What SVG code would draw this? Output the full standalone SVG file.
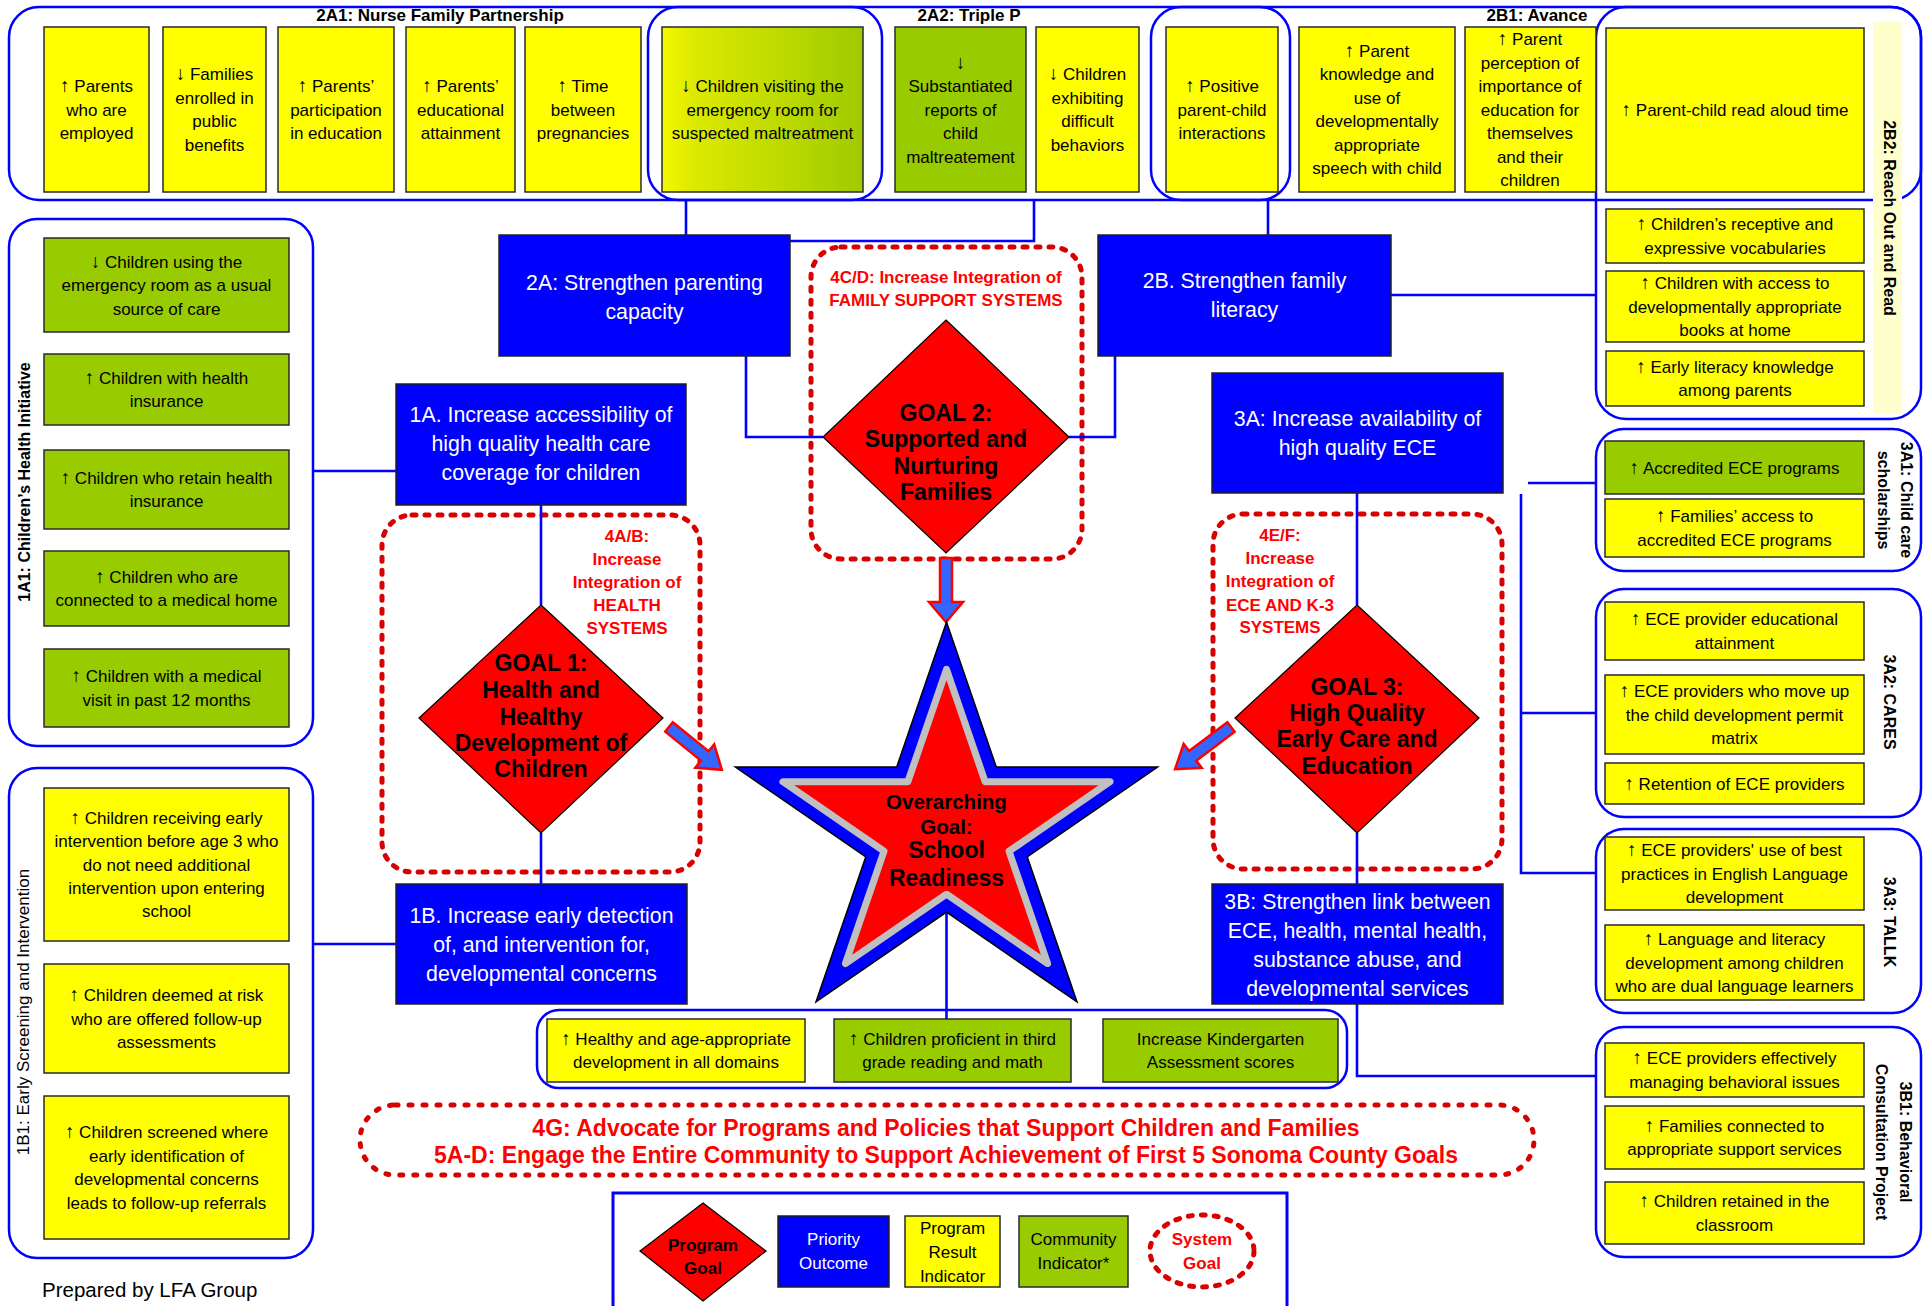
<svg xmlns="http://www.w3.org/2000/svg" width="1931" height="1306" viewBox="0 0 1931 1306">
<style>
text{font-family:"Liberation Sans",Arial,Helvetica,sans-serif}
.grp{fill:none;stroke:#0000FF;stroke-width:2.5}
.y{fill:#FFFF00;stroke:#2a2a2a;stroke-width:1.5}
.g{fill:#99CC00;stroke:#2a2a2a;stroke-width:1.5}
.b{fill:#0000FF;stroke:#222;stroke-width:1.5}
.dia{fill:#FF0000;stroke:#000;stroke-width:1.2}
.sys{fill:none;stroke:#D80000;stroke-width:5;stroke-dasharray:4 9;stroke-linecap:round}
.conn path{fill:none;stroke:#0000FF;stroke-width:2.6}
.arr{fill:#3366FF;stroke:#FF0000;stroke-width:2.5}
.t{font-size:17px;text-anchor:middle;fill:#000}
.a{font-weight:bold;font-size:19px}
.w{font-size:21.3px;text-anchor:middle;fill:#fff}
.r{font-size:17px;font-weight:bold;text-anchor:middle;fill:#FF0000}
.gl{font-size:23px;font-weight:bold;text-anchor:middle;fill:#000}
.lb{font-size:16px;font-weight:bold;text-anchor:middle;fill:#000}
.ti{font-size:17px;font-weight:bold;text-anchor:middle;fill:#000}
.lg{font-size:17px;text-anchor:middle}
</style>
<defs>
<linearGradient id="yg" x1="0" y1="0" x2="1" y2="0">
<stop offset="0" stop-color="#F5F800"/><stop offset="0.15" stop-color="#DDEA00"/><stop offset="1" stop-color="#9FCB00"/>
</linearGradient>
</defs>
<rect width="1931" height="1306" fill="#fff"/>

<!-- group frames -->
<g id="frame-top">
<rect class="grp" x="9" y="7" width="1912" height="193" rx="30"/>
<rect class="grp" x="648" y="7" width="234" height="193" rx="30"/>
<rect class="grp" x="1151" y="7" width="139" height="193" rx="30"/>
<text class="ti" x="440" y="21">2A1: Nurse Family Partnership</text>
<text class="ti" x="969" y="21">2A2: Triple P</text>
<text class="ti" x="1537" y="21">2B1: Avance</text>
</g>
<g id="frame-2B2">
<rect x="1873" y="22" width="29" height="391" fill="#FFFFCC"/>
<rect class="grp" x="1596" y="7" width="325" height="412" rx="30"/>
<text class="lb" transform="translate(1884,218) rotate(90)" x="0" y="0">2B2: Reach Out and Read</text>
</g>
<g id="frame-1A1">
<rect class="grp" x="9" y="219" width="304" height="527" rx="28"/>
<text class="lb" transform="translate(30,482) rotate(-90)" x="0" y="0">1A1: Children’s Health Initiative</text>
</g>
<g id="frame-1B1">
<rect class="grp" x="9" y="768" width="304" height="490" rx="28"/>
<text style="font-size:17px;text-anchor:middle" transform="translate(29,1012) rotate(-90)" x="0" y="0">1B1: Early Screening and Intervention</text>
</g>
<g id="frame-3A1">
<rect class="grp" x="1596" y="429" width="325" height="142" rx="28"/>
<text class="lb" transform="translate(1901,500) rotate(90)"><tspan x="0" y="0">3A1: Child care</tspan><tspan x="0" y="23">scholarships</tspan></text>
</g>
<g id="frame-3A2">
<rect class="grp" x="1596" y="589" width="325" height="228" rx="28"/>
<text class="lb" transform="translate(1884,702) rotate(90)" x="0" y="0">3A2: CARES</text>
</g>
<g id="frame-3A3">
<rect class="grp" x="1596" y="829" width="325" height="184" rx="28"/>
<text class="lb" transform="translate(1884,922) rotate(90)" x="0" y="0">3A3: TALLK</text>
</g>
<g id="frame-3B1">
<rect class="grp" x="1596" y="1027" width="325" height="230" rx="28"/>
<text class="lb" transform="translate(1900,1142) rotate(90)"><tspan x="0" y="0">3B1: Behavioral</tspan><tspan x="0" y="24">Consultation Project</tspan></text>
</g>
<g id="frame-community">
<rect class="grp" x="537" y="1010" width="810" height="78" rx="22"/>
</g>

<!-- system goals (dashed) -->
<g id="sys-4AB">
<rect class="sys" x="382" y="515" width="318" height="357" rx="30"/>
<text class="r"><tspan x="627" y="542">4A/B:</tspan><tspan x="627" y="565">Increase</tspan><tspan x="627" y="588">Integration of</tspan><tspan x="627" y="611">HEALTH</tspan><tspan x="627" y="634">SYSTEMS</tspan></text>
</g>
<g id="sys-4CD">
<rect class="sys" x="811" y="247" width="271" height="312" rx="30"/>
<text class="r"><tspan x="946" y="283">4C/D: Increase Integration of</tspan><tspan x="946" y="306">FAMILY SUPPORT SYSTEMS</tspan></text>
</g>
<g id="sys-4EF">
<rect class="sys" x="1213" y="514" width="289" height="355" rx="30"/>
<text class="r"><tspan x="1280" y="541">4E/F:</tspan><tspan x="1280" y="564">Increase</tspan><tspan x="1280" y="587">Integration of</tspan><tspan x="1280" y="611">ECE AND K-3</tspan><tspan x="1280" y="633">SYSTEMS</tspan></text>
</g>
<g id="sys-4G5">
<rect class="sys" x="360" y="1105" width="1174" height="70" rx="35" style="stroke-dasharray:3 11"/>
<text class="r" style="font-size:23px"><tspan x="946" y="1136">4G: Advocate for Programs and Policies that Support Children and Families</tspan><tspan x="946" y="1163">5A-D: Engage the Entire Community to Support Achievement of First 5 Sonoma County Goals</tspan></text>
</g>

<!-- connectors -->
<g id="connectors" class="conn">
<path d="M686,200 V235"/>
<path d="M1034,200 V241 H790"/>
<path d="M746,356 V437 H823"/>
<path d="M1069,437 H1115 V356"/>
<path d="M1268,200 V235"/>
<path d="M1391,295 H1596"/>
<path d="M313,471 H396"/>
<path d="M541,505 V605"/>
<path d="M541,833 V884"/>
<path d="M313,944 H396"/>
<path d="M1357,493 V605"/>
<path d="M1357,833 V884"/>
<path d="M1357,1004 V1076 H1596"/>
<path d="M1528,483 H1596"/>
<path d="M1521,494 V873 H1596"/>
<path d="M1521,713 H1596"/>
<path d="M946.5,912 V1019"/>
<polygon class="arr" points="940,558 952,558 952,602 963,602 946,622 929,602 940,602"/>
<polygon class="arr" transform="translate(669,727) rotate(39)" points="0,-6 46,-6 46,-15 68,0 46,15 46,6 0,6"/>
<polygon class="arr" transform="translate(1231,727) rotate(143)" points="0,-6 48,-6 48,-15 70,0 48,15 48,6 0,6"/>
</g>

<!-- top row indicators -->
<g id="n-parents-employed"><rect class="y" x="44" y="27" width="105" height="165"/>
<text class="t"><tspan x="96.5" y="92"><tspan class="a">↑</tspan> Parents</tspan><tspan x="96.5" y="115.5">who are</tspan><tspan x="96.5" y="139">employed</tspan></text></g>
<g id="n-public-benefits"><rect class="y" x="163" y="27" width="103" height="165"/>
<text class="t"><tspan x="214.5" y="80.25"><tspan class="a">↓</tspan> Families</tspan><tspan x="214.5" y="103.75">enrolled in</tspan><tspan x="214.5" y="127.25">public</tspan><tspan x="214.5" y="150.75">benefits</tspan></text></g>
<g id="n-participation"><rect class="y" x="278" y="27" width="116" height="165"/>
<text class="t"><tspan x="336" y="92"><tspan class="a">↑</tspan> Parents’</tspan><tspan x="336" y="115.5">participation</tspan><tspan x="336" y="139">in education</tspan></text></g>
<g id="n-attainment"><rect class="y" x="406" y="27" width="109" height="165"/>
<text class="t"><tspan x="460.5" y="92"><tspan class="a">↑</tspan> Parents’</tspan><tspan x="460.5" y="115.5">educational</tspan><tspan x="460.5" y="139">attainment</tspan></text></g>
<g id="n-pregnancies"><rect class="y" x="525" y="27" width="116" height="165"/>
<text class="t"><tspan x="583" y="92"><tspan class="a">↑</tspan> Time</tspan><tspan x="583" y="115.5">between</tspan><tspan x="583" y="139">pregnancies</tspan></text></g>
<g id="n-er-maltreatment"><rect x="662" y="27" width="201" height="165" fill="url(#yg)" stroke="#2a2a2a" stroke-width="1.5"/>
<text class="t"><tspan x="762.5" y="92"><tspan class="a">↓</tspan> Children visiting the</tspan><tspan x="762.5" y="115.5">emergency room for</tspan><tspan x="762.5" y="139">suspected maltreatment</tspan></text></g>
<g id="n-substantiated"><rect class="g" x="895" y="27" width="131" height="165"/>
<text class="t"><tspan x="960.5" y="68.5" class="a">↓</tspan><tspan x="960.5" y="92">Substantiated</tspan><tspan x="960.5" y="115.5">reports of</tspan><tspan x="960.5" y="139">child</tspan><tspan x="960.5" y="162.5">maltreatement</tspan></text></g>
<g id="n-difficult"><rect class="y" x="1036" y="27" width="103" height="165"/>
<text class="t"><tspan x="1087.5" y="80.25"><tspan class="a">↓</tspan> Children</tspan><tspan x="1087.5" y="103.75">exhibiting</tspan><tspan x="1087.5" y="127.25">difficult</tspan><tspan x="1087.5" y="150.75">behaviors</tspan></text></g>
<g id="n-positive"><rect class="y" x="1166" y="27" width="112" height="165"/>
<text class="t"><tspan x="1222" y="92"><tspan class="a">↑</tspan> Positive</tspan><tspan x="1222" y="115.5">parent-child</tspan><tspan x="1222" y="139">interactions</tspan></text></g>
<g id="n-speech"><rect class="y" x="1299" y="27" width="156" height="165"/>
<text class="t"><tspan x="1377" y="56.75"><tspan class="a">↑</tspan> Parent</tspan><tspan x="1377" y="80.25">knowledge and</tspan><tspan x="1377" y="103.75">use of</tspan><tspan x="1377" y="127.25">developmentally</tspan><tspan x="1377" y="150.75">appropriate</tspan><tspan x="1377" y="174.25">speech with child</tspan></text></g>
<g id="n-perception"><rect class="y" x="1465" y="27" width="131" height="165"/>
<text class="t"><tspan x="1530" y="45"><tspan class="a">↑</tspan> Parent</tspan><tspan x="1530" y="68.5">perception of</tspan><tspan x="1530" y="92">importance of</tspan><tspan x="1530" y="115.5">education for</tspan><tspan x="1530" y="139">themselves</tspan><tspan x="1530" y="162.5">and their</tspan><tspan x="1530" y="186">children</tspan></text></g>
<g id="n-read-aloud"><rect class="y" x="1606" y="28" width="258" height="164"/>
<text class="t"><tspan x="1735" y="116"><tspan class="a">↑</tspan> Parent-child read aloud time</tspan></text></g>

<!-- 2B2 items -->
<g id="n-vocab"><rect class="y" x="1606" y="209" width="258" height="54"/>
<text class="t"><tspan x="1735" y="230"><tspan class="a">↑</tspan> Children’s receptive and</tspan><tspan x="1735" y="253.5">expressive vocabularies</tspan></text></g>
<g id="n-books"><rect class="y" x="1606" y="271" width="258" height="71"/>
<text class="t"><tspan x="1735" y="289"><tspan class="a">↑</tspan> Children with access to</tspan><tspan x="1735" y="312.5">developmentally appropriate</tspan><tspan x="1735" y="336">books at home</tspan></text></g>
<g id="n-early-literacy"><rect class="y" x="1606" y="351" width="258" height="55"/>
<text class="t"><tspan x="1735" y="372.75"><tspan class="a">↑</tspan> Early literacy knowledge</tspan><tspan x="1735" y="396.25">among parents</tspan></text></g>

<!-- 1A1 items -->
<g id="n-er-usual"><rect class="g" x="44" y="238" width="245" height="94"/>
<text class="t"><tspan x="166.5" y="267.5"><tspan class="a">↓</tspan> Children using the</tspan><tspan x="166.5" y="291">emergency room as a usual</tspan><tspan x="166.5" y="314.5">source of care</tspan></text></g>
<g id="n-insurance"><rect class="g" x="44" y="354" width="245" height="71"/>
<text class="t"><tspan x="166.5" y="383.75"><tspan class="a">↑</tspan> Children with health</tspan><tspan x="166.5" y="407.25">insurance</tspan></text></g>
<g id="n-retain"><rect class="g" x="44" y="450" width="245" height="79"/>
<text class="t"><tspan x="166.5" y="483.75"><tspan class="a">↑</tspan> Children who retain health</tspan><tspan x="166.5" y="507.25">insurance</tspan></text></g>
<g id="n-medical-home"><rect class="g" x="44" y="551" width="245" height="75"/>
<text class="t"><tspan x="166.5" y="582.75"><tspan class="a">↑</tspan> Children who are</tspan><tspan x="166.5" y="606.25">connected to a medical home</tspan></text></g>
<g id="n-medical-visit"><rect class="g" x="44" y="649" width="245" height="78"/>
<text class="t"><tspan x="166.5" y="682.25"><tspan class="a">↑</tspan> Children with a medical</tspan><tspan x="166.5" y="705.75">visit in past 12 months</tspan></text></g>

<!-- 1B1 items -->
<g id="n-early-intervention"><rect class="y" x="44" y="788" width="245" height="153"/>
<text class="t"><tspan x="166.5" y="823.7"><tspan class="a">↑</tspan> Children receiving early</tspan><tspan x="166.5" y="847.1">intervention before age 3 who</tspan><tspan x="166.5" y="870.5">do not need additional</tspan><tspan x="166.5" y="893.9">intervention upon entering</tspan><tspan x="166.5" y="917.3">school</tspan></text></g>
<g id="n-at-risk"><rect class="y" x="44" y="964" width="245" height="109"/>
<text class="t"><tspan x="166.5" y="1001"><tspan class="a">↑</tspan> Children deemed at risk</tspan><tspan x="166.5" y="1024.5">who are offered follow-up</tspan><tspan x="166.5" y="1048">assessments</tspan></text></g>
<g id="n-screened"><rect class="y" x="44" y="1096" width="245" height="143"/>
<text class="t"><tspan x="166.5" y="1138.4"><tspan class="a">↑</tspan> Children screened where</tspan><tspan x="166.5" y="1161.8">early identification of</tspan><tspan x="166.5" y="1185.2">developmental concerns</tspan><tspan x="166.5" y="1208.6">leads to follow-up referrals</tspan></text></g>

<!-- 3A1 / 3A2 / 3A3 / 3B1 items -->
<g id="n-accredited"><rect class="g" x="1605" y="441" width="259" height="53"/>
<text class="t"><tspan x="1734.5" y="473.5"><tspan class="a">↑</tspan> Accredited ECE programs</tspan></text></g>
<g id="n-access-accredited"><rect class="y" x="1605" y="499" width="259" height="58"/>
<text class="t"><tspan x="1734.5" y="522.25"><tspan class="a">↑</tspan> Families’ access to</tspan><tspan x="1734.5" y="545.75">accredited ECE programs</tspan></text></g>
<g id="n-provider-edu"><rect class="y" x="1605" y="602" width="259" height="58"/>
<text class="t"><tspan x="1734.5" y="625.25"><tspan class="a">↑</tspan> ECE provider educational</tspan><tspan x="1734.5" y="648.75">attainment</tspan></text></g>
<g id="n-permit"><rect class="y" x="1605" y="675" width="259" height="79"/>
<text class="t"><tspan x="1734.5" y="697"><tspan class="a">↑</tspan> ECE providers who move up</tspan><tspan x="1734.5" y="720.5">the child development permit</tspan><tspan x="1734.5" y="744">matrix</tspan></text></g>
<g id="n-retention"><rect class="y" x="1605" y="763" width="259" height="41"/>
<text class="t"><tspan x="1734.5" y="789.5"><tspan class="a">↑</tspan> Retention of ECE providers</tspan></text></g>
<g id="n-best-practices"><rect class="y" x="1605" y="837" width="259" height="73"/>
<text class="t"><tspan x="1734.5" y="856"><tspan class="a">↑</tspan> ECE providers' use of best</tspan><tspan x="1734.5" y="879.5">practices in English Language</tspan><tspan x="1734.5" y="903">development</tspan></text></g>
<g id="n-dual-language"><rect class="y" x="1605" y="925" width="259" height="75"/>
<text class="t"><tspan x="1734.5" y="945"><tspan class="a">↑</tspan> Language and literacy</tspan><tspan x="1734.5" y="968.5">development among children</tspan><tspan x="1734.5" y="992">who are dual language learners</tspan></text></g>
<g id="n-behavioral"><rect class="y" x="1605" y="1043" width="259" height="54"/>
<text class="t"><tspan x="1734.5" y="1064.25"><tspan class="a">↑</tspan> ECE providers effectively</tspan><tspan x="1734.5" y="1087.75">managing behavioral issues</tspan></text></g>
<g id="n-support-services"><rect class="y" x="1605" y="1106" width="259" height="63"/>
<text class="t"><tspan x="1734.5" y="1131.75"><tspan class="a">↑</tspan> Families connected to</tspan><tspan x="1734.5" y="1155.25">appropriate support services</tspan></text></g>
<g id="n-retained"><rect class="y" x="1605" y="1182" width="259" height="62"/>
<text class="t"><tspan x="1734.5" y="1207.25"><tspan class="a">↑</tspan> Children retained in the</tspan><tspan x="1734.5" y="1230.75">classroom</tspan></text></g>

<!-- community indicators -->
<g id="n-healthy-dev"><rect class="y" x="547" y="1019" width="258" height="63"/>
<text class="t"><tspan x="676" y="1045"><tspan class="a">↑</tspan> Healthy and age-appropriate</tspan><tspan x="676" y="1068">development in all domains</tspan></text></g>
<g id="n-third-grade"><rect class="g" x="834" y="1019" width="237" height="63"/>
<text class="t"><tspan x="952.5" y="1045"><tspan class="a">↑</tspan> Children proficient in third</tspan><tspan x="952.5" y="1068">grade reading and math</tspan></text></g>
<g id="n-kindergarten"><rect class="g" x="1103" y="1019" width="235" height="63"/>
<text class="t"><tspan x="1220.5" y="1045">Increase Kindergarten</tspan><tspan x="1220.5" y="1068">Assessment scores</tspan></text></g>

<!-- priority outcomes -->
<g id="n-2A"><rect class="b" x="499" y="235" width="291" height="121"/>
<text class="w"><tspan x="644.5" y="289.5">2A: Strengthen parenting</tspan><tspan x="644.5" y="318.5">capacity</tspan></text></g>
<g id="n-2B"><rect class="b" x="1098" y="235" width="293" height="121"/>
<text class="w"><tspan x="1244.5" y="288">2B. Strengthen family</tspan><tspan x="1244.5" y="317">literacy</tspan></text></g>
<g id="n-1A"><rect class="b" x="396" y="384" width="290" height="121"/>
<text class="w"><tspan x="541" y="421.5">1A. Increase accessibility of</tspan><tspan x="541" y="450.5">high quality health care</tspan><tspan x="541" y="479.5">coverage for children</tspan></text></g>
<g id="n-3A"><rect class="b" x="1212" y="373" width="291" height="120"/>
<text class="w"><tspan x="1357.5" y="425.5">3A: Increase availability of</tspan><tspan x="1357.5" y="454.5">high quality ECE</tspan></text></g>
<g id="n-1B"><rect class="b" x="396" y="884" width="291" height="120"/>
<text class="w"><tspan x="541.5" y="922.5">1B. Increase early detection</tspan><tspan x="541.5" y="951.5">of, and intervention for,</tspan><tspan x="541.5" y="980.5">developmental concerns</tspan></text></g>
<g id="n-3B"><rect class="b" x="1212" y="884" width="291" height="120"/>
<text class="w"><tspan x="1357.5" y="908.5">3B: Strengthen link between</tspan><tspan x="1357.5" y="937.5">ECE, health, mental health,</tspan><tspan x="1357.5" y="966.5">substance abuse, and</tspan><tspan x="1357.5" y="995.5">developmental services</tspan></text></g>

<!-- program goals -->
<g id="n-goal1"><polygon class="dia" points="541,605 663,718 541,833 419,718"/>
<text class="gl"><tspan x="541" y="671">GOAL 1:</tspan><tspan x="541" y="698">Health and</tspan><tspan x="541" y="725">Healthy</tspan><tspan x="541" y="751">Development of</tspan><tspan x="541" y="777">Children</tspan></text></g>
<g id="n-goal2"><polygon class="dia" points="946,320 1069,437 946,553 823,437"/>
<text class="gl"><tspan x="946" y="421">GOAL 2:</tspan><tspan x="946" y="447">Supported and</tspan><tspan x="946" y="474">Nurturing</tspan><tspan x="946" y="500">Families</tspan></text></g>
<g id="n-goal3"><polygon class="dia" points="1357,605 1479,718 1357,833 1235,718"/>
<text class="gl"><tspan x="1357" y="695">GOAL 3:</tspan><tspan x="1357" y="721">High Quality</tspan><tspan x="1357" y="747">Early Care and</tspan><tspan x="1357" y="774">Education</tspan></text></g>

<!-- overarching goal star -->
<g id="n-star">
<polygon points="946.5,622 996.3,767.1 1157.6,767.1 1027.2,856.8 1077,1001.9 946.5,912.2 816,1001.9 865.8,856.8 735.4,767.1 896.7,767.1" fill="#0000FF" stroke="#000" stroke-width="1.5"/>
<polygon points="946.5,669.3 985.1,781.7 1110.1,781.7 1009,851.2 1047.6,963.6 946.5,894.2 845.4,963.6 884,851.2 782.9,781.7 907.9,781.7" fill="#FF0000" stroke="#C0C0C0" stroke-width="7" stroke-linejoin="round"/>
<text class="gl"><tspan x="946.5" y="809" style="font-size:20.5px">Overarching</tspan><tspan x="946.5" y="834" style="font-size:20.5px">Goal:</tspan><tspan x="946.5" y="858">School</tspan><tspan x="946.5" y="886">Readiness</tspan></text>
</g>

<!-- legend -->
<g id="legend">
<path d="M613,1306 V1193 H1287 V1306" fill="none" stroke="#0000FF" stroke-width="3"/>
<polygon class="dia" points="703,1203 766,1251 703,1301 640,1251"/>
<text class="lg" style="font-weight:bold"><tspan x="703" y="1251">Program</tspan><tspan x="703" y="1274">Goal</tspan></text>
<rect class="b" x="778" y="1216" width="111" height="71"/>
<text class="lg" fill="#fff"><tspan x="833.5" y="1245">Priority</tspan><tspan x="833.5" y="1269">Outcome</tspan></text>
<rect class="y" x="905" y="1216" width="95" height="71"/>
<text class="lg"><tspan x="952.5" y="1234">Program</tspan><tspan x="952.5" y="1258">Result</tspan><tspan x="952.5" y="1282">Indicator</tspan></text>
<rect class="g" x="1019" y="1216" width="109" height="71"/>
<text class="lg"><tspan x="1073.5" y="1245">Community</tspan><tspan x="1073.5" y="1269">Indicator*</tspan></text>
<ellipse class="sys" cx="1202" cy="1251" rx="52" ry="36"/>
<text class="r"><tspan x="1202" y="1245">System</tspan><tspan x="1202" y="1269">Goal</tspan></text>
</g>

<text x="42" y="1297" style="font-size:20.5px" fill="#000">Prepared by LFA Group</text>
</svg>
